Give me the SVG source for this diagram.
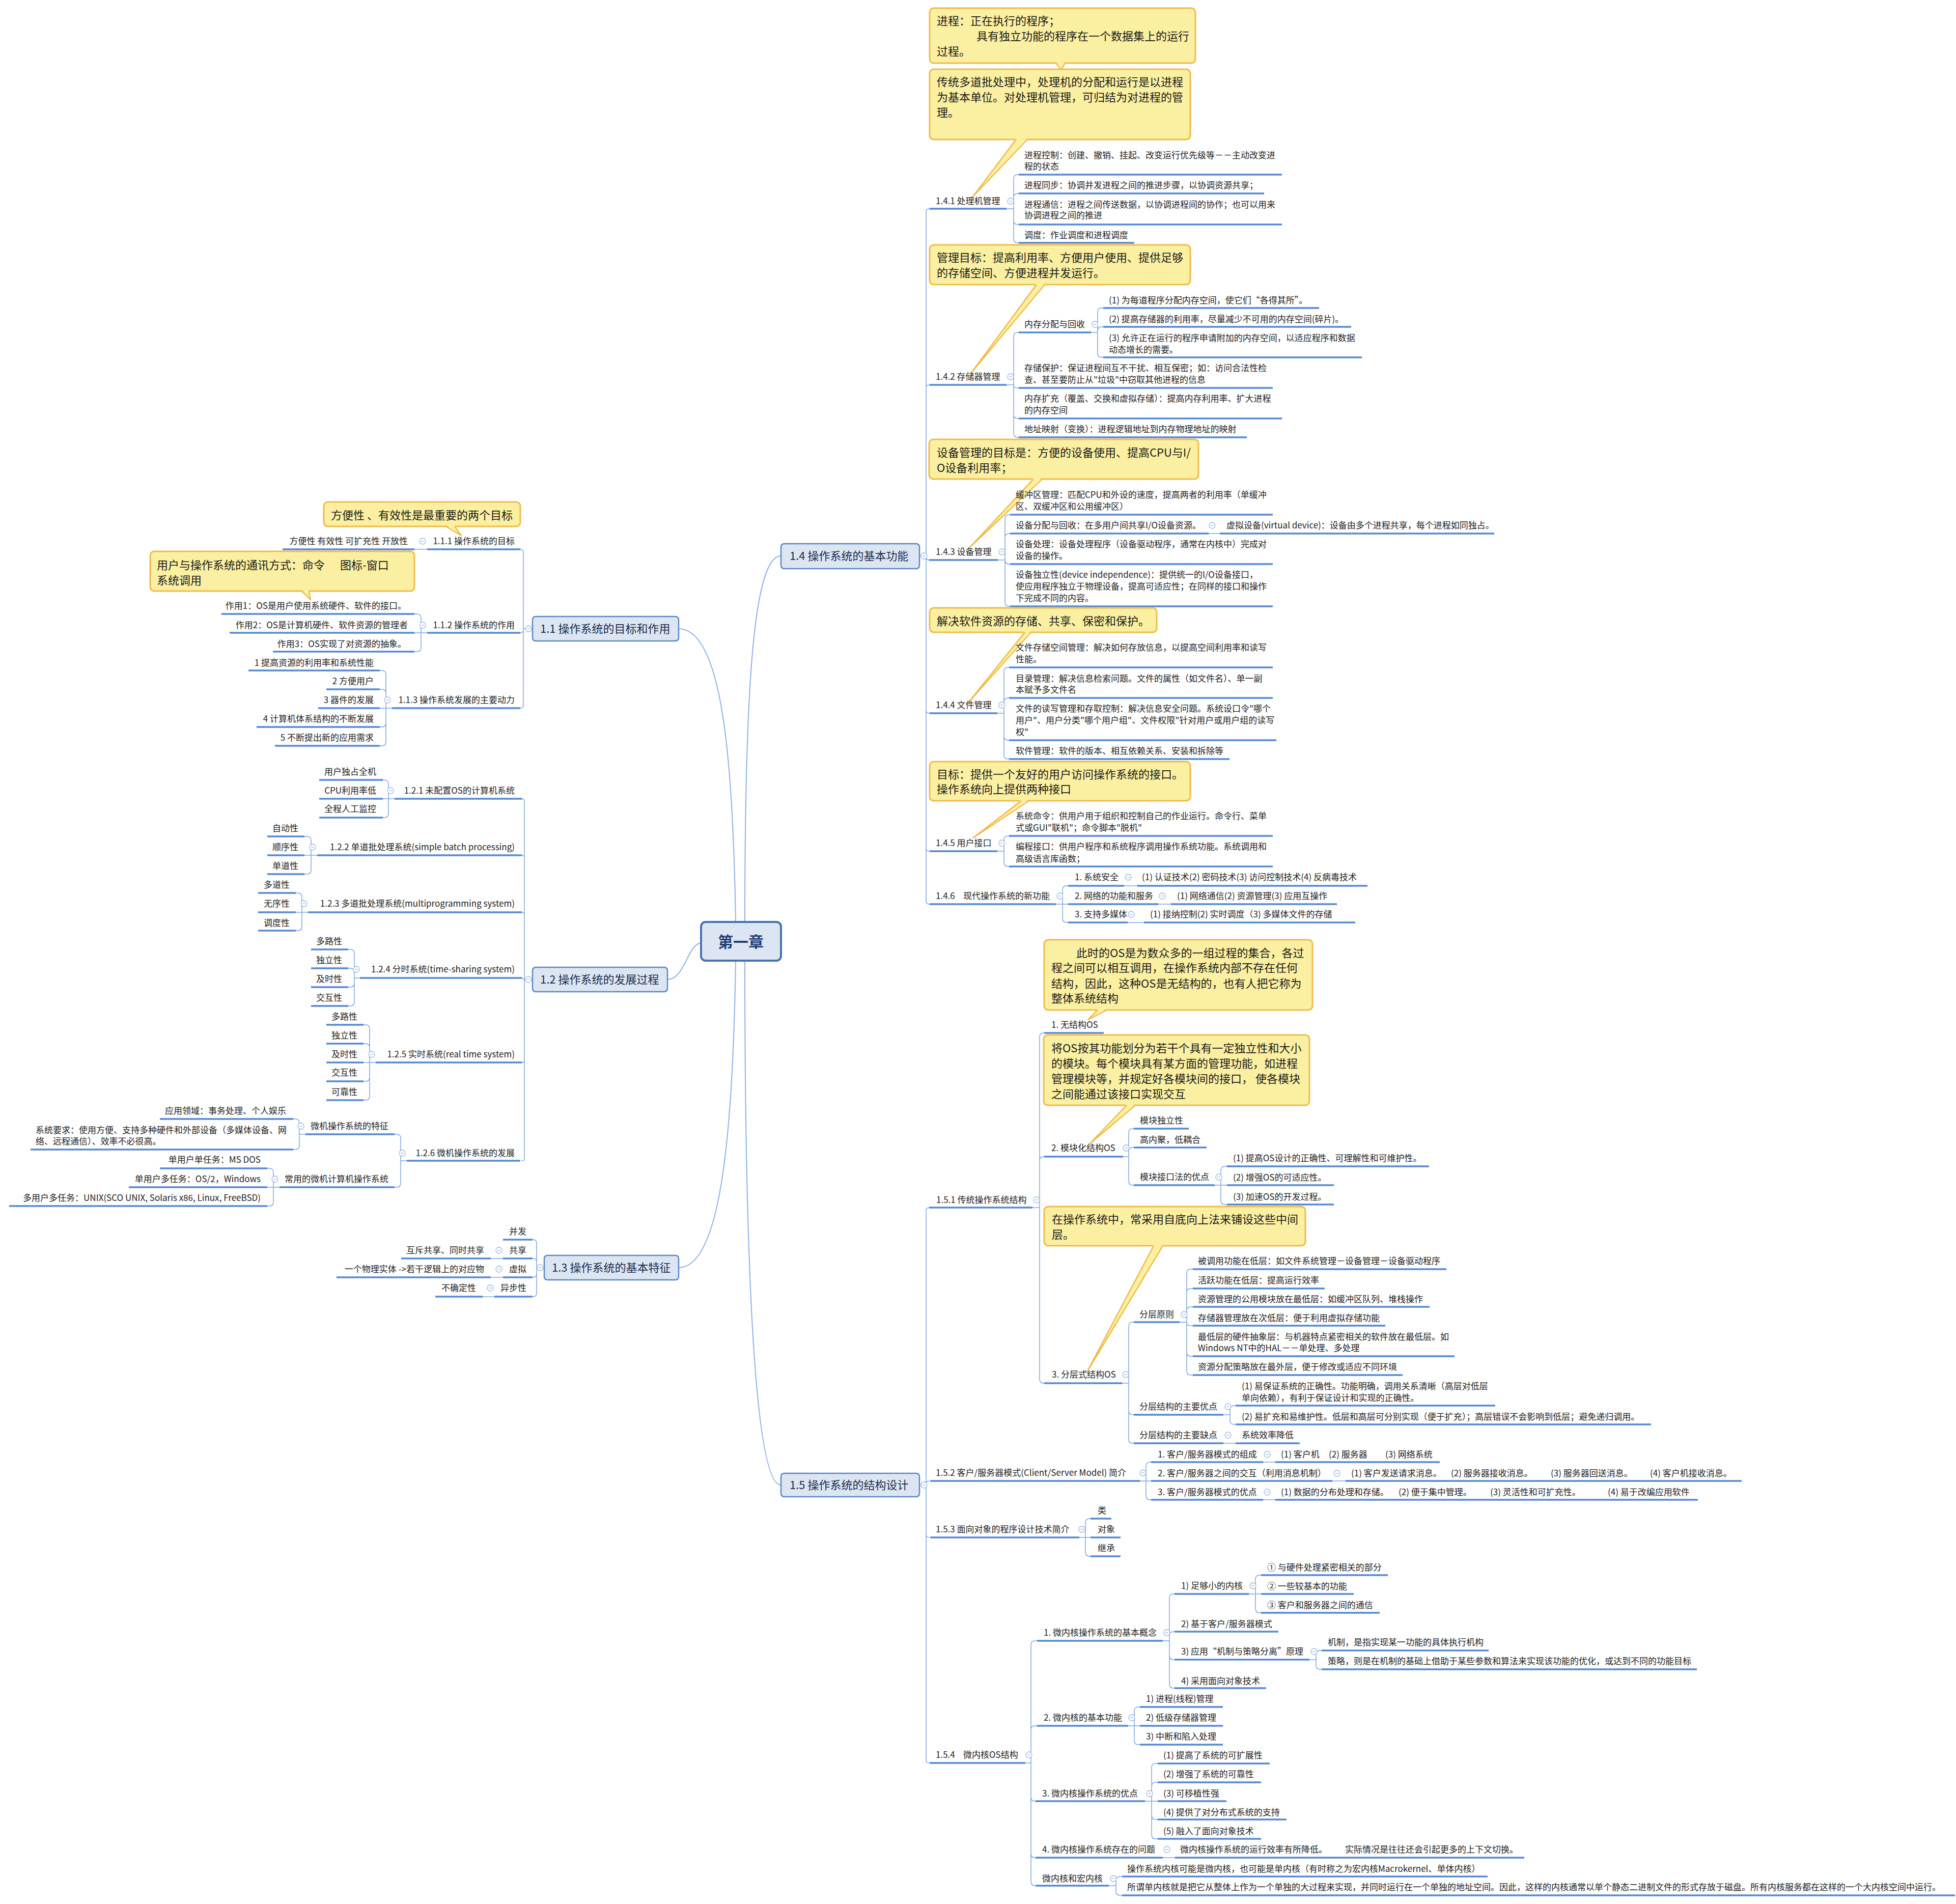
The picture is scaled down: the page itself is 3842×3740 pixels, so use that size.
<svg xmlns="http://www.w3.org/2000/svg" width="3842" height="3740" viewBox="0 0 3842 3740" xml:space="preserve">
<defs>
<style>
text{font-family:"Noto Sans CJK SC","Noto Sans",sans-serif;fill:#222}
.t{font-size:17px}
.e{text-anchor:end}
.c{font-size:22px;fill:#1a1a1a}
.m{font-size:22px;fill:#1b2d4d}
.ul{stroke:#5589d3;stroke-width:3.5;fill:none}
.cn{stroke:#7ea7e0;stroke-width:1.5;fill:none}
.mc{stroke:#8db1e6;stroke-width:2;fill:none}
.co{fill:#fbf0a1;stroke:#f0bb4a;stroke-width:3}
.pf{fill:#fbf0a1}
.ps{fill:none;stroke:#f0bb4a;stroke-width:2.5;stroke-linejoin:round}
.mb{fill:#dce6f3;stroke:#5b87c6;stroke-width:2.5}
</style>
<g id="cc"><circle r="6" fill="#fff" stroke="#9ab7e3" stroke-width="1.3"/><line x1="-3" y1="0" x2="3" y2="0" stroke="#9ab7e3" stroke-width="1.3"/></g>
</defs>
<rect width="3842" height="3740" fill="#fff"/>

<g id="connectors">
<path class="mc" d="M1463 1811C1463 1350 1480 1092 1534 1092M1463 1887C1463 2450 1480 2917 1534 2917M1333 1235C1420 1235 1440 1500 1445 1811M1311 1924C1345 1924 1350 1855 1377 1852M1333 2490C1420 2490 1440 2200 1445 1887"/>
<path class="cn" d="M1806 1092H1819V416Q1819 410 1825 410H1826M1806 1092H1819V762Q1819 756 1825 756H1826M1806 1092H1819V1094Q1819 1100 1825 1100H1826M1806 1092H1819V1395Q1819 1401 1825 1401H1826M1806 1092H1819V1666Q1819 1672 1825 1672H1826M1806 1092H1819V1770Q1819 1776 1825 1776H1826"/>
<path class="cn" d="M1977 410H1991V351Q1991 343 1999 343H2001M1977 410H1991V388Q1991 380 1999 380H2001M1977 410H1991V433Q1991 441 1999 441H2001M1977 410H1991V469Q1991 477 1999 477H2001"/>
<path class="cn" d="M1977 756H1991V661Q1991 653 1999 653H2001M1977 756H1991V756Q1991 762 1997 762H2001M1977 756H1991V814Q1991 822 1999 822H2001M1977 756H1991V851Q1991 859 1999 859H2001"/>
<path class="cn" d="M2143 653H2156V613Q2156 605 2164 605H2167M2143 653H2156V650Q2156 642 2164 642H2167M2143 653H2156V694Q2156 702 2164 702H2167"/>
<path class="cn" d="M1960 1100H1974V1019Q1974 1011 1982 1011H1984M1960 1100H1974V1056Q1974 1048 1982 1048H1984M1960 1100H1974V1100Q1974 1108 1982 1108H1984M1960 1100H1974V1183Q1974 1191 1982 1191H1984M2374 1048H2396"/>
<path class="cn" d="M1959 1401H1972V1319Q1972 1311 1980 1311H1982M1959 1401H1972V1379Q1972 1371 1980 1371H1982M1959 1401H1972V1446Q1972 1454 1980 1454H1982M1959 1401H1972V1483Q1972 1491 1980 1491H1982"/>
<path class="cn" d="M1959 1672H1972V1650Q1972 1642 1980 1642H1982M1959 1672H1972V1694Q1972 1702 1980 1702H1982"/>
<path class="cn" d="M2074 1776H2087V1748Q2087 1740 2095 1740H2098M2074 1776H2098M2074 1776H2087V1804Q2087 1812 2095 1812H2098M2208 1740H2234M2275 1776H2300M2215 1812H2247"/>
<path class="cn" d="M1046 1235H1028V1085Q1028 1079 1022 1079M1046 1235H1028V1237Q1028 1243 1022 1243M1046 1235H1028V1385Q1028 1391 1022 1391M839 1079H814"/>
<path class="cn" d="M839 1243H827V1214Q827 1206 819 1206H814M839 1243H814M839 1243H827V1272Q827 1280 819 1280H814"/>
<path class="cn" d="M770 1391H758V1325Q758 1317 750 1317H746M770 1391H758V1362Q758 1354 750 1354H746M770 1391H746M770 1391H758V1420Q758 1428 750 1428H746M770 1391H758V1457Q758 1465 750 1465H746"/>
<path class="cn" d="M1046 1924H1030V1574Q1030 1569 1025 1569M1046 1924H1030V1685Q1030 1680 1025 1680M1046 1924H1030V1797Q1030 1792 1025 1792M1046 1924H1030L1025 1921M1046 1924H1030V2082Q1030 2087 1025 2087M1046 1924H1030V2275Q1030 2280 1025 2280"/>
<path class="cn" d="M775 1569H763V1540Q763 1532 755 1532H752M775 1569H752M775 1569H763V1598Q763 1606 755 1606H752"/>
<path class="cn" d="M623 1680H611V1651Q611 1643 603 1643H598M623 1680H598M623 1680H611V1709Q611 1717 603 1717H598"/>
<path class="cn" d="M605 1792H593V1762Q593 1754 585 1754H581M605 1792H581M605 1792H593V1820Q593 1828 585 1828H581"/>
<path class="cn" d="M707 1921H696V1873Q696 1865 688 1865H684M707 1921H696V1910Q696 1902 688 1902H684M707 1921H696V1931Q696 1939 688 1939H684M707 1921H696V1968Q696 1976 688 1976H684"/>
<path class="cn" d="M738 2087H726V2021Q726 2013 718 2013H714M738 2087H726V2058Q726 2050 718 2050H714M738 2087H714M738 2087H726V2116Q726 2124 718 2124H714M738 2087H726V2153Q726 2161 718 2161H714"/>
<path class="cn" d="M799 2280H787V2236Q787 2228 779 2228H775M799 2280H787V2324Q787 2332 779 2332H775M600 2228H588V2206Q588 2198 580 2198H576M600 2228H588V2250Q588 2258 580 2258H576M549 2332H537V2303Q537 2295 529 2295H525M549 2332H525M549 2332H537V2361Q537 2369 529 2369H525"/>
<path class="cn" d="M1069 2490H1054V2442Q1054 2435 1047 2435H1046M1069 2490H1054V2479Q1054 2472 1047 2472H1046M1069 2490H1054V2502Q1054 2509 1047 2509H1046M1069 2490H1054V2540Q1054 2547 1047 2547H1046M988 2472H964M988 2509H964M971 2547H948"/>
<path class="cn" d="M1806 2917H1819V2378Q1819 2372 1825 2372M1806 2917H1819V2915Q1819 2909 1825 2909M1806 2917H1819V3014Q1819 3020 1825 3020M1806 2917H1819V3457Q1819 3463 1825 3463"/>
<path class="cn" d="M2028 2372H2042V2037Q2042 2029 2050 2029H2051M2028 2372H2042V2280Q2042 2272 2050 2272H2051M2028 2372H2042V2709Q2042 2717 2050 2717H2051"/>
<path class="cn" d="M2206 2272H2217V2225Q2217 2217 2225 2217H2227M2206 2272H2217V2262Q2217 2254 2225 2254H2227M2206 2272H2217V2320Q2217 2328 2225 2328H2227M2386 2328H2398V2299Q2398 2291 2406 2291H2410M2386 2328H2410M2386 2328H2398V2358Q2398 2366 2406 2366H2410"/>
<path class="cn" d="M2204 2717H2217V2605Q2217 2597 2225 2597H2227M2204 2717H2217V2771Q2217 2779 2225 2779H2227M2204 2717H2217V2827Q2217 2835 2225 2835H2227"/>
<path class="cn" d="M2317 2597H2331V2501Q2331 2493 2339 2493H2343M2317 2597H2331V2539Q2331 2531 2339 2531H2343M2317 2597H2331V2575Q2331 2567 2339 2567H2343M2317 2597H2331Q2331 2604 2338 2604H2343M2317 2597H2331V2656Q2331 2664 2339 2664H2343M2317 2597H2331V2693Q2331 2701 2339 2701H2343"/>
<path class="cn" d="M2403 2779H2416V2769Q2416 2761 2424 2761H2427M2403 2779H2416V2790Q2416 2798 2424 2798H2427M2403 2835H2427"/>
<path class="cn" d="M2239 2909H2251V2880Q2251 2872 2259 2872H2261M2239 2909H2261M2239 2909H2251V2938Q2251 2946 2259 2946H2261M2481 2872H2505M2617 2909H2643M2481 2946H2505"/>
<path class="cn" d="M2120 3020H2132V2991Q2132 2983 2140 2983H2142M2120 3020H2142M2120 3020H2132V3049Q2132 3057 2140 3057H2142"/>
<path class="cn" d="M2014 3463H2025V3231Q2025 3223 2033 3223H2037M2014 3463H2025V3398Q2025 3390 2033 3390H2037M2014 3463H2025V3530Q2025 3538 2033 3538H2034M2014 3463H2025V3641Q2025 3649 2033 3649H2034M2014 3463H2025V3696Q2025 3704 2033 3704H2034"/>
<path class="cn" d="M2284 3223H2297V3139Q2297 3131 2305 3131H2307M2284 3223H2297V3213Q2297 3205 2305 3205H2307M2284 3223H2297V3252Q2297 3260 2305 3260H2307M2284 3223H2297V3308Q2297 3316 2305 3316H2307"/>
<path class="cn" d="M2453 3131H2466V3102Q2466 3094 2474 3094H2477M2453 3131H2477M2453 3131H2466V3160Q2466 3168 2474 3168H2477M2572 3260H2585V3250Q2585 3242 2593 3242H2596M2572 3260H2585V3271Q2585 3279 2593 3279H2596"/>
<path class="cn" d="M2216 3390H2228V3361Q2228 3353 2236 3353H2239M2216 3390H2239M2216 3390H2228V3419Q2228 3427 2236 3427H2239"/>
<path class="cn" d="M2249 3538H2262V3472Q2262 3464 2270 3464H2274M2249 3538H2262V3509Q2262 3501 2270 3501H2274M2249 3538H2274M2249 3538H2262V3566Q2262 3574 2270 3574H2274M2249 3538H2262V3604Q2262 3612 2270 3612H2274M2284 3649H2308"/>
<path class="cn" d="M2178 3704H2192V3694Q2192 3686 2200 3686H2204M2178 3704H2192V3715Q2192 3723 2200 3723H2204"/>
</g>

<g id="n0">
<rect x="1377" y="1811" width="157" height="76" rx="9" fill="#dce6f3" stroke="#4572b0" stroke-width="4"/>
<text x="1455" y="1861" text-anchor="middle" style="font-size:30px;font-weight:bold;fill:#1f3f73">第一章</text>
</g>

<!-- 1.4 -->
<g id="n14">
<rect class="mb" x="1534" y="1068" width="272" height="49" rx="6"/>
<text class="m" x="1551" y="1100">1.4 操作系统的基本功能</text>
<use href="#cc" x="1815" y="1092"/>
</g>
<g id="calloutA">
<rect class="co" x="1826" y="16" width="522" height="108" rx="8"/>
<polygon class="pf" points="2074,121 2092,121 2084,137"/>
<polyline class="ps" points="2074,124 2084,137 2092,124"/>
<text class="c"><tspan x="1840" y="49">进程：正在执行的程序；</tspan><tspan x="1918" y="79">具有独立功能的程序在一个数据集上的运行</tspan><tspan x="1840" y="109">过程。</tspan></text>
</g>
<g id="n141">
<rect class="co" x="1826" y="136" width="512" height="138" rx="8"/>
<polygon class="pf" points="1996,271 2018,271 1911,386"/>
<polyline class="ps" points="1996,274 1911,386 2018,274"/>
<text class="c"><tspan x="1840" y="169">传统多道批处理中，处理机的分配和运行是以进程</tspan><tspan x="1840" y="199">为基本单位。对处理机管理，可归结为对进程的管</tspan><tspan x="1840" y="229">理。</tspan></text>
<text class="t" x="1838" y="401">1.4.1 处理机管理</text>
<path class="ul" d="M1826 410H1977"/>
<use href="#cc" x="1985" y="395"/>
<text class="t"><tspan x="2012" y="311">进程控制：创建、撤销、挂起、改变运行优先级等－－主动改变进</tspan><tspan x="2012" y="333">程的状态</tspan></text>
<path class="ul" d="M2001 343H2518"/>
<text class="t" x="2012" y="370">进程同步：协调并发进程之间的推进步骤，以协调资源共享；</text>
<path class="ul" d="M2001 380H2483"/>
<text class="t"><tspan x="2012" y="408">进程通信：进程之间传送数据，以协调进程间的协作；也可以用来</tspan><tspan x="2012" y="429">协调进程之间的推进</tspan></text>
<path class="ul" d="M2001 441H2518"/>
<text class="t" x="2012" y="468">调度：作业调度和进程调度</text>
<path class="ul" d="M2001 477H2228"/>
</g>
<g id="n142">
<rect class="co" x="1826" y="481" width="512" height="78" rx="8"/>
<polygon class="pf" points="2036,556 2052,556 1908,732"/>
<polyline class="ps" points="2036,559 1908,732 2052,559"/>
<text class="c"><tspan x="1840" y="514">管理目标：提高利用率、方便用户使用、提供足够</tspan><tspan x="1840" y="544">的存储空间、方便进程并发运行。</tspan></text>
<text class="t" x="1838" y="746">1.4.2 存储器管理</text>
<path class="ul" d="M1826 756H1977"/>
<use href="#cc" x="1985" y="740"/>
<text class="t" x="2012" y="643">内存分配与回收</text>
<path class="ul" d="M2001 653H2143"/>
<use href="#cc" x="2151" y="637"/>
<text class="t" x="2178" y="596">(1) 为每道程序分配内存空间，使它们“各得其所”。</text>
<path class="ul" d="M2167 605H2591"/>
<text class="t" x="2178" y="633">(2) 提高存储器的利用率，尽量减少不可用的内存空间(碎片)。</text>
<path class="ul" d="M2167 642H2654"/>
<text class="t"><tspan x="2178" y="670">(3) 允许正在运行的程序申请附加的内存空间，以适应程序和数据</tspan><tspan x="2178" y="693">动态增长的需要。</tspan></text>
<path class="ul" d="M2167 702H2675"/>
<text class="t"><tspan x="2012" y="729">存储保护：保证进程间互不干扰、相互保密；如：访问合法性检</tspan><tspan x="2012" y="752">查、甚至要防止从"垃圾"中窃取其他进程的信息</tspan></text>
<path class="ul" d="M2001 762H2500"/>
<text class="t"><tspan x="2012" y="789">内存扩充（覆盖、交换和虚拟存储）：提高内存利用率、扩大进程</tspan><tspan x="2012" y="812">的内存空间</tspan></text>
<path class="ul" d="M2001 822H2518"/>
<text class="t" x="2012" y="849">地址映射（变换）：进程逻辑地址到内存物理地址的映射</text>
<path class="ul" d="M2001 859H2449"/>
</g>
<g id="n143">
<rect class="co" x="1825" y="863" width="529" height="78" rx="8"/>
<polygon class="pf" points="2030,938 2047,938 1905,1075"/>
<polyline class="ps" points="2030,941 1905,1075 2047,941"/>
<text class="c"><tspan x="1840" y="897">设备管理的目标是：方便的设备使用、提高CPU与I/</tspan><tspan x="1840" y="927">O设备利用率；</tspan></text>
<text class="t" x="1838" y="1090">1.4.3 设备管理</text>
<path class="ul" d="M1825 1100H1960"/>
<use href="#cc" x="1968" y="1084"/>
<text class="t"><tspan x="1995" y="978">缓冲区管理：匹配CPU和外设的速度，提高两者的利用率（单缓冲</tspan><tspan x="1995" y="1001">区、双缓冲区和公用缓冲区）</tspan></text>
<path class="ul" d="M1984 1011H2500"/>
<text class="t" x="1995" y="1038">设备分配与回收：在多用户间共享I/O设备资源。</text>
<path class="ul" d="M1984 1048H2374"/>
<use href="#cc" x="2381" y="1032"/>
<text class="t" x="2409" y="1038">虚拟设备(virtual device)：设备由多个进程共享，每个进程如同独占。</text>
<path class="ul" d="M2396 1048H2935"/>
<text class="t"><tspan x="1995" y="1075">设备处理：设备处理程序（设备驱动程序，通常在内核中）完成对</tspan><tspan x="1995" y="1098">设备的操作。</tspan></text>
<path class="ul" d="M1984 1108H2500"/>
<text class="t"><tspan x="1995" y="1135">设备独立性(device independence)：提供统一的I/O设备接口，</tspan><tspan x="1995" y="1158">使应用程序独立于物理设备，提高可适应性；在同样的接口和操作</tspan><tspan x="1995" y="1181">下完成不同的内容。</tspan></text>
<path class="ul" d="M1984 1191H2500"/>
</g>
<g id="n144">
<rect class="co" x="1826" y="1194" width="446" height="48" rx="8"/>
<polygon class="pf" points="2013,1239 2025,1239 1902,1380"/>
<polyline class="ps" points="2013,1242 1902,1380 2025,1242"/>
<text class="c" x="1840" y="1228">解决软件资源的存储、共享、保密和保护。</text>
<text class="t" x="1838" y="1391">1.4.4 文件管理</text>
<path class="ul" d="M1826 1401H1959"/>
<use href="#cc" x="1968" y="1385"/>
<text class="t"><tspan x="1995" y="1278">文件存储空间管理：解决如何存放信息，以提高空间利用率和读写</tspan><tspan x="1995" y="1301">性能。</tspan></text>
<path class="ul" d="M1982 1311H2500"/>
<text class="t"><tspan x="1995" y="1339">目录管理：解决信息检索问题。文件的属性（如文件名）、单一副</tspan><tspan x="1995" y="1361">本赋予多文件名</tspan></text>
<path class="ul" d="M1982 1371H2500"/>
<text class="t"><tspan x="1995" y="1398">文件的读写管理和存取控制：解决信息安全问题。系统设口令"哪个</tspan><tspan x="1995" y="1421">用户"、用户分类"哪个用户组"、文件权限"针对用户或用户组的读写</tspan><tspan x="1995" y="1444">权"</tspan></text>
<path class="ul" d="M1982 1454H2507"/>
<text class="t" x="1995" y="1481">软件管理：软件的版本、相互依赖关系、安装和拆除等</text>
<path class="ul" d="M1982 1491H2415"/>
</g>
<g id="n145">
<rect class="co" x="1826" y="1496" width="512" height="77" rx="8"/>
<polygon class="pf" points="2006,1570 2021,1570 1911,1646"/>
<polyline class="ps" points="2006,1573 1911,1646 2021,1573"/>
<text class="c"><tspan x="1840" y="1529">目标：提供一个友好的用户访问操作系统的接口。</tspan><tspan x="1840" y="1558">操作系统向上提供两种接口</tspan></text>
<text class="t" x="1838" y="1662">1.4.5 用户接口</text>
<path class="ul" d="M1826 1672H1959"/>
<use href="#cc" x="1968" y="1656"/>
<text class="t"><tspan x="1995" y="1609">系统命令：供用户用于组织和控制自己的作业运行。命令行、菜单</tspan><tspan x="1995" y="1632">式或GUI"联机"；命令脚本"脱机"</tspan></text>
<path class="ul" d="M1982 1642H2500"/>
<text class="t"><tspan x="1995" y="1669">编程接口：供用户程序和系统程序调用操作系统功能。系统调用和</tspan><tspan x="1995" y="1693">高级语言库函数；</tspan></text>
<path class="ul" d="M1982 1702H2500"/>
</g>
<g id="n146">
<text class="t" y="1766"><tspan x="1838">1.4.6</tspan><tspan x="1892">现代操作系统的新功能</tspan></text>
<path class="ul" d="M1826 1776H2074"/>
<use href="#cc" x="2082" y="1760"/>
<text class="t" x="2111" y="1729">1. 系统安全</text>
<path class="ul" d="M2098 1740H2208"/>
<use href="#cc" x="2216" y="1723"/>
<text class="t" x="2243" y="1729">(1) 认证技术(2) 密码技术(3) 访问控制技术(4) 反病毒技术</text>
<path class="ul" d="M2234 1740H2686"/>
<text class="t" x="2111" y="1766">2. 网络的功能和服务</text>
<path class="ul" d="M2098 1776H2275"/>
<use href="#cc" x="2283" y="1760"/>
<text class="t" x="2312" y="1766">(1) 网络通信(2) 资源管理(3) 应用互操作</text>
<path class="ul" d="M2300 1776H2626"/>
<text class="t" x="2111" y="1802">3. 支持多媒体</text>
<path class="ul" d="M2098 1812H2215"/>
<use href="#cc" x="2222" y="1796"/>
<text class="t" x="2259" y="1802">(1) 接纳控制(2) 实时调度（3) 多媒体文件的存储</text>
<path class="ul" d="M2247 1812H2662"/>
</g>

<!-- 1.1 -->
<g id="n11">
<rect class="mb" x="1046" y="1211" width="287" height="48" rx="6"/>
<text class="m" x="1061" y="1243">1.1 操作系统的目标和作用</text>
<use href="#cc" x="1038" y="1235"/>
</g>
<g id="n111">
<rect class="co" x="636" y="986" width="386" height="48" rx="8"/>
<polygon class="pf" points="876,1031 893,1031 906,1052"/>
<polyline class="ps" points="876,1034 906,1052 893,1034"/>
<text class="c" x="650" y="1020">方便性 、有效性是最重要的两个目标</text>
<text class="t e" x="1011" y="1069">1.1.1 操作系统的目标</text>
<path class="ul" d="M839 1079H1022"/>
<use href="#cc" x="830" y="1063"/>
<text class="t e" x="801" y="1069">方便性 有效性 可扩充性 开放性</text>
<path class="ul" d="M555 1079H814"/>
</g>
<g id="n112">
<rect class="co" x="295" y="1083" width="519" height="78" rx="8"/>
<polygon class="pf" points="593,1158 607,1158 610,1178"/>
<polyline class="ps" points="593,1161 610,1178 607,1161"/>
<text class="c"><tspan x="308" y="1118">用户与操作系统的通讯方式：命令</tspan><tspan x="668" y="1118">图标-窗口</tspan><tspan x="308" y="1148">系统调用</tspan></text>
<text class="t e" x="1011" y="1234">1.1.2 操作系统的作用</text>
<path class="ul" d="M839 1243H1022"/>
<use href="#cc" x="830" y="1228"/>
<text class="t e" x="798" y="1196">作用1：OS是用户使用系统硬件、软件的接口。</text>
<path class="ul" d="M435 1206H814"/>
<text class="t e" x="801" y="1234">作用2：OS是计算机硬件、软件资源的管理者</text>
<path class="ul" d="M451 1243H814"/>
<text class="t e" x="798" y="1271">作用3：OS实现了对资源的抽象。</text>
<path class="ul" d="M536 1280H814"/>
</g>
<g id="n113">
<text class="t e" x="1011" y="1381">1.1.3 操作系统发展的主要动力</text>
<path class="ul" d="M770 1391H1022"/>
<use href="#cc" x="761" y="1375"/>
<text class="t e" x="734" y="1308">1 提高资源的利用率和系统性能</text>
<path class="ul" d="M488 1317H746"/>
<text class="t e" x="734" y="1344">2 方便用户</text>
<path class="ul" d="M641 1354H746"/>
<text class="t e" x="734" y="1381">3 器件的发展</text>
<path class="ul" d="M625 1391H746"/>
<text class="t e" x="734" y="1418">4 计算机体系结构的不断发展</text>
<path class="ul" d="M504 1428H746"/>
<text class="t e" x="734" y="1455">5 不断提出新的应用需求</text>
<path class="ul" d="M540 1465H746"/>
</g>

<!-- 1.2 -->
<g id="n12">
<rect class="mb" x="1046" y="1900" width="265" height="48" rx="6"/>
<text class="m" x="1061" y="1932">1.2 操作系统的发展过程</text>
<use href="#cc" x="1038" y="1924"/>
</g>
<g id="n121">
<text class="t e" x="1011" y="1559">1.2.1  未配置OS的计算机系统</text>
<path class="ul" d="M775 1569H1025"/>
<use href="#cc" x="767" y="1553"/>
<text class="t e" x="739" y="1522">用户独占全机</text>
<path class="ul" d="M627 1532H752"/>
<text class="t e" x="739" y="1559">CPU利用率低</text>
<path class="ul" d="M627 1569H752"/>
<text class="t e" x="739" y="1595">全程人工监控</text>
<path class="ul" d="M627 1606H752"/>
</g>
<g id="n122">
<text class="t e" x="1011" y="1670">1.2.2  单道批处理系统(simple batch processing)</text>
<path class="ul" d="M623 1680H1025"/>
<use href="#cc" x="614" y="1664"/>
<text class="t e" x="586" y="1633">自动性</text>
<path class="ul" d="M525 1643H598"/>
<text class="t e" x="586" y="1670">顺序性</text>
<path class="ul" d="M525 1680H598"/>
<text class="t e" x="586" y="1707">单道性</text>
<path class="ul" d="M525 1717H598"/>
</g>
<g id="n123">
<text class="t e" x="1011" y="1781">1.2.3  多道批处理系统(multiprogramming system)</text>
<path class="ul" d="M605 1792H1025"/>
<use href="#cc" x="597" y="1775"/>
<text class="t e" x="569" y="1744">多道性</text>
<path class="ul" d="M507 1754H581"/>
<text class="t e" x="569" y="1781">无序性</text>
<path class="ul" d="M507 1792H581"/>
<text class="t e" x="569" y="1819">调度性</text>
<path class="ul" d="M507 1828H581"/>
</g>
<g id="n124">
<text class="t e" x="1011" y="1910">1.2.4  分时系统(time-sharing system)</text>
<path class="ul" d="M707 1921H1025"/>
<use href="#cc" x="700" y="1904"/>
<text class="t e" x="672" y="1855">多路性</text>
<path class="ul" d="M611 1865H684"/>
<text class="t e" x="672" y="1892">独立性</text>
<path class="ul" d="M611 1902H684"/>
<text class="t e" x="672" y="1929">及时性</text>
<path class="ul" d="M611 1939H684"/>
<text class="t e" x="672" y="1966">交互性</text>
<path class="ul" d="M611 1976H684"/>
</g>
<g id="n125">
<text class="t e" x="1011" y="2077">1.2.5  实时系统(real time system)</text>
<path class="ul" d="M738 2087H1025"/>
<use href="#cc" x="730" y="2071"/>
<text class="t e" x="702" y="2003">多路性</text>
<path class="ul" d="M641 2013H714"/>
<text class="t e" x="702" y="2040">独立性</text>
<path class="ul" d="M641 2050H714"/>
<text class="t e" x="702" y="2077">及时性</text>
<path class="ul" d="M641 2087H714"/>
<text class="t e" x="702" y="2113">交互性</text>
<path class="ul" d="M641 2124H714"/>
<text class="t e" x="702" y="2151">可靠性</text>
<path class="ul" d="M641 2161H714"/>
</g>
<g id="n126">
<text class="t e" x="1011" y="2271">1.2.6  微机操作系统的发展</text>
<path class="ul" d="M799 2280H1022"/>
<use href="#cc" x="790" y="2265"/>
<text class="t e" x="763" y="2218">微机操作系统的特征</text>
<path class="ul" d="M600 2228H775"/>
<use href="#cc" x="591" y="2212"/>
<text class="t e" x="562" y="2188">应用领域：事务处理、个人娱乐</text>
<path class="ul" d="M314 2198H576"/>
<text class="t"><tspan x="70" y="2226">系统要求：使用方便、支持多种硬件和外部设备（多媒体设备、网</tspan><tspan x="70" y="2248">络、远程通信）、效率不必很高。</tspan></text>
<path class="ul" d="M60 2258H576"/>
<text class="t e" x="763" y="2322">常用的微机计算机操作系统</text>
<path class="ul" d="M549 2332H775"/>
<use href="#cc" x="540" y="2316"/>
<text class="t e" x="512" y="2284">单用户单任务：MS DOS</text>
<path class="ul" d="M314 2295H525"/>
<text class="t e" x="512" y="2322">单用户多任务：OS/2，Windows</text>
<path class="ul" d="M253 2332H525"/>
<text class="t e" x="512" y="2359">多用户多任务：UNIX(SCO UNIX, Solaris x86, Linux, FreeBSD)</text>
<path class="ul" d="M18 2369H525"/>
</g>

<!-- 1.3 -->
<g id="n13">
<rect class="mb" x="1069" y="2466" width="264" height="48" rx="6"/>
<text class="m" x="1084" y="2498">1.3 操作系统的基本特征</text>
<use href="#cc" x="1061" y="2490"/>
<text class="t e" x="1034" y="2425">并发</text>
<path class="ul" d="M988 2435H1046"/>
<text class="t e" x="1034" y="2462">共享</text>
<path class="ul" d="M988 2472H1046"/>
<use href="#cc" x="980" y="2456"/>
<text class="t e" x="951" y="2462">互斥共享、同时共享</text>
<path class="ul" d="M788 2472H964"/>
<text class="t e" x="1034" y="2499">虚拟</text>
<path class="ul" d="M988 2509H1046"/>
<use href="#cc" x="980" y="2493"/>
<text class="t e" x="951" y="2499">一个物理实体 -&gt;若干逻辑上的对应物</text>
<path class="ul" d="M661 2509H964"/>
<text class="t e" x="1034" y="2536">异步性</text>
<path class="ul" d="M971 2547H1046"/>
<use href="#cc" x="963" y="2530"/>
<text class="t e" x="935" y="2536">不确定性</text>
<path class="ul" d="M855 2547H948"/>
</g>

<!-- 1.5 -->
<g id="n15">
<rect class="mb" x="1534" y="2894" width="272" height="46" rx="6"/>
<text class="m" x="1551" y="2925">1.5 操作系统的结构设计</text>
<use href="#cc" x="1815" y="2917"/>
</g>
<g id="n151">
<text class="t" x="1839" y="2363">1.5.1 传统操作系统结构</text>
<path class="ul" d="M1825 2372H2028"/>
<use href="#cc" x="2036" y="2357"/>
<rect class="co" x="2051" y="1846" width="527" height="138" rx="8"/>
<polygon class="pf" points="2156,1981 2174,1981 2137,2003"/>
<polyline class="ps" points="2156,1984 2137,2003 2174,1984"/>
<text class="c"><tspan x="2114" y="1880">此时的OS是为数众多的一组过程的集合，各过</tspan><tspan x="2065" y="1909">程之间可以相互调用，在操作系统内部不存在任何</tspan><tspan x="2065" y="1940">结构，因此，这种OS是无结构的，也有人把它称为</tspan><tspan x="2065" y="1969">整体系统结构</tspan></text>
<text class="t" x="2065" y="2019">1. 无结构OS</text>
<path class="ul" d="M2051 2029H2168"/>
<rect class="co" x="2050" y="2033" width="522" height="138" rx="8"/>
<polygon class="pf" points="2213,2168 2230,2168 2140,2247"/>
<polyline class="ps" points="2213,2171 2140,2247 2230,2171"/>
<text class="c"><tspan x="2065" y="2067">将OS按其功能划分为若干个具有一定独立性和大小</tspan><tspan x="2065" y="2097">的模块。每个模块具有某方面的管理功能，如进程</tspan><tspan x="2065" y="2127">管理模块等，并规定好各模块间的接口，  使各模块</tspan><tspan x="2065" y="2157">之间能通过该接口实现交互</tspan></text>
<text class="t" x="2065" y="2261">2. 模块化结构OS</text>
<path class="ul" d="M2051 2272H2206"/>
<use href="#cc" x="2212" y="2255"/>
<text class="t" x="2239" y="2207">模块独立性</text>
<path class="ul" d="M2227 2217H2335"/>
<text class="t" x="2239" y="2245">高内聚，低耦合</text>
<path class="ul" d="M2227 2254H2370"/>
<text class="t" x="2239" y="2318">模块接口法的优点</text>
<path class="ul" d="M2227 2328H2386"/>
<use href="#cc" x="2394" y="2312"/>
<text class="t" x="2422" y="2281">(1) 提高OS设计的正确性、可理解性和可维护性。</text>
<path class="ul" d="M2410 2291H2807"/>
<text class="t" x="2422" y="2319">(2) 增强OS的可适应性。</text>
<path class="ul" d="M2410 2328H2620"/>
<text class="t" x="2422" y="2357">(3) 加速OS的开发过程。</text>
<path class="ul" d="M2410 2366H2620"/>
<rect class="co" x="2051" y="2370" width="513" height="77" rx="8"/>
<polygon class="pf" points="2266,2444 2284,2444 2135,2695"/>
<polyline class="ps" points="2266,2447 2135,2695 2284,2447"/>
<text class="c"><tspan x="2066" y="2403">在操作系统中，常采用自底向上法来铺设这些中间</tspan><tspan x="2066" y="2433">层。</tspan></text>
<text class="t" x="2066" y="2706">3. 分层式结构OS</text>
<path class="ul" d="M2051 2717H2204"/>
<use href="#cc" x="2211" y="2700"/>
<text class="t" x="2238" y="2588">分层原则</text>
<path class="ul" d="M2227 2597H2317"/>
<use href="#cc" x="2326" y="2582"/>
<text class="t" x="2353" y="2483">被调用功能在低层：如文件系统管理－设备管理－设备驱动程序</text>
<path class="ul" d="M2343 2493H2841"/>
<text class="t" x="2353" y="2521">活跃功能在低层：提高运行效率</text>
<path class="ul" d="M2343 2531H2602"/>
<text class="t" x="2353" y="2558">资源管理的公用模块放在最低层：如缓冲区队列、堆栈操作</text>
<path class="ul" d="M2343 2567H2808"/>
<text class="t" x="2353" y="2595">存储器管理放在次低层：便于利用虚拟存储功能</text>
<path class="ul" d="M2343 2604H2721"/>
<text class="t"><tspan x="2353" y="2632">最低层的硬件抽象层：与机器特点紧密相关的软件放在最低层。如</tspan><tspan x="2353" y="2654">Windows NT中的HAL－－单处理、多处理</tspan></text>
<path class="ul" d="M2343 2664H2857"/>
<text class="t" x="2353" y="2691">资源分配策略放在最外层，便于修改或适应不同环境</text>
<path class="ul" d="M2343 2701H2755"/>
<text class="t" x="2238" y="2769">分层结构的主要优点</text>
<path class="ul" d="M2227 2779H2403"/>
<use href="#cc" x="2412" y="2763"/>
<text class="t"><tspan x="2439" y="2729">(1) 易保证系统的正确性。功能明确，调用关系清晰（高层对低层</tspan><tspan x="2439" y="2752">单向依赖），有利于保证设计和实现的正确性。</tspan></text>
<path class="ul" d="M2427 2761H2937"/>
<text class="t" x="2439" y="2789">(2) 易扩充和易维护性。低层和高层可分别实现（便于扩充）；高层错误不会影响到低层；避免递归调用。</text>
<path class="ul" d="M2427 2798H3243"/>
<text class="t" x="2238" y="2825">分层结构的主要缺点</text>
<path class="ul" d="M2227 2835H2403"/>
<use href="#cc" x="2412" y="2819"/>
<text class="t" x="2439" y="2825">系统效率降低</text>
<path class="ul" d="M2427 2835H2553"/>
</g>
<g id="n152">
<text class="t" x="1838" y="2899">1.5.2  客户/服务器模式(Client/Server Model) 简介</text>
<path class="ul" d="M1827 2909H2239"/>
<use href="#cc" x="2245" y="2893"/>
<text class="t" x="2274" y="2863">1. 客户/服务器模式的组成</text>
<path class="ul" d="M2261 2872H2481"/>
<use href="#cc" x="2489" y="2857"/>
<text class="t" y="2863"><tspan x="2516">(1) 客户机</tspan><tspan x="2610">(2) 服务器</tspan><tspan x="2721">(3) 网络系统</tspan></text>
<path class="ul" d="M2505 2872H2828"/>
<text class="t" x="2274" y="2900">2. 客户/服务器之间的交互（利用消息机制）</text>
<path class="ul" d="M2261 2909H2617"/>
<use href="#cc" x="2626" y="2894"/>
<text class="t" y="2900"><tspan x="2654">(1) 客户发送请求消息。</tspan><tspan x="2850">(2) 服务器接收消息。</tspan><tspan x="3046">(3) 服务器回送消息。</tspan><tspan x="3241">(4) 客户机接收消息。</tspan></text>
<path class="ul" d="M2643 2909H3421"/>
<text class="t" x="2274" y="2937">3. 客户/服务器模式的优点</text>
<path class="ul" d="M2261 2946H2481"/>
<use href="#cc" x="2489" y="2931"/>
<text class="t" y="2937"><tspan x="2516">(1) 数据的分布处理和存储。</tspan><tspan x="2747">(2) 便于集中管理。</tspan><tspan x="2927">(3) 灵活性和可扩充性。</tspan><tspan x="3158">(4) 易于改编应用软件</tspan></text>
<path class="ul" d="M2505 2946H3335"/>
</g>
<g id="n153">
<text class="t" x="1838" y="3010">1.5.3  面向对象的程序设计技术简介</text>
<path class="ul" d="M1827 3020H2120"/>
<use href="#cc" x="2125" y="3004"/>
<text class="t" x="2156" y="2973">类</text>
<path class="ul" d="M2142 2983H2183"/>
<text class="t" x="2156" y="3010">对象</text>
<path class="ul" d="M2142 3020H2201"/>
<text class="t" x="2156" y="3047">继承</text>
<path class="ul" d="M2142 3057H2201"/>
</g>
<g id="n154">
<text class="t" y="3453"><tspan x="1838">1.5.4</tspan><tspan x="1892">微内核OS结构</tspan></text>
<path class="ul" d="M1826 3463H2014"/>
<use href="#cc" x="2021" y="3447"/>
<text class="t" x="2050" y="3213">1. 微内核操作系统的基本概念</text>
<path class="ul" d="M2037 3223H2284"/>
<use href="#cc" x="2292" y="3207"/>
<text class="t" x="2320" y="3121">1) 足够小的内核</text>
<path class="ul" d="M2307 3131H2453"/>
<use href="#cc" x="2461" y="3115"/>
<text class="t" x="2489" y="3085">① 与硬件处理紧密相关的部分</text>
<path class="ul" d="M2477 3094H2726"/>
<text class="t" x="2489" y="3122">② 一些较基本的功能</text>
<path class="ul" d="M2477 3131H2659"/>
<text class="t" x="2489" y="3159">③ 客户和服务器之间的通信</text>
<path class="ul" d="M2477 3168H2710"/>
<text class="t" x="2320" y="3196">2) 基于客户/服务器模式</text>
<path class="ul" d="M2307 3205H2511"/>
<text class="t" x="2320" y="3250">3) 应用“机制与策略分离”原理</text>
<path class="ul" d="M2307 3260H2572"/>
<use href="#cc" x="2581" y="3244"/>
<text class="t" x="2608" y="3232">机制，是指实现某一功能的具体执行机构</text>
<path class="ul" d="M2596 3242H2924"/>
<text class="t" x="2608" y="3269">策略，则是在机制的基础上借助于某些参数和算法来实现该功能的优化，或达到不同的功能目标</text>
<path class="ul" d="M2596 3279H3333"/>
<text class="t" x="2320" y="3308">4) 采用面向对象技术</text>
<path class="ul" d="M2307 3316H2487"/>
<text class="t" x="2050" y="3380">2. 微内核的基本功能</text>
<path class="ul" d="M2037 3390H2216"/>
<use href="#cc" x="2223" y="3374"/>
<text class="t" x="2251" y="3343">1) 进程(线程)管理</text>
<path class="ul" d="M2239 3353H2402"/>
<text class="t" x="2251" y="3380">2) 低级存储器管理</text>
<path class="ul" d="M2239 3390H2402"/>
<text class="t" x="2251" y="3417">3) 中断和陷入处理</text>
<path class="ul" d="M2239 3427H2402"/>
<text class="t" x="2047" y="3529">3. 微内核操作系统的优点</text>
<path class="ul" d="M2034 3538H2249"/>
<use href="#cc" x="2258" y="3523"/>
<text class="t" x="2285" y="3454">(1) 提高了系统的可扩展性</text>
<path class="ul" d="M2274 3464H2494"/>
<text class="t" x="2285" y="3491">(2) 增强了系统的可靠性</text>
<path class="ul" d="M2274 3501H2477"/>
<text class="t" x="2285" y="3529">(3) 可移植性强</text>
<path class="ul" d="M2274 3538H2409"/>
<text class="t" x="2285" y="3566">(4) 提供了对分布式系统的支持</text>
<path class="ul" d="M2274 3574H2527"/>
<text class="t" x="2285" y="3603">(5) 融入了面向对象技术</text>
<path class="ul" d="M2274 3612H2477"/>
<text class="t" x="2047" y="3639">4. 微内核操作系统存在的问题</text>
<path class="ul" d="M2034 3649H2284"/>
<use href="#cc" x="2292" y="3633"/>
<text class="t" y="3639"><tspan x="2318">微内核操作系统的运行效率有所降低。</tspan><tspan x="2642">实际情况是往往还会引起更多的上下文切换。</tspan></text>
<path class="ul" d="M2308 3649H2994"/>
<text class="t" x="2047" y="3696">微内核和宏内核</text>
<path class="ul" d="M2034 3704H2178"/>
<use href="#cc" x="2187" y="3690"/>
<text class="t" x="2214" y="3677">操作系统内核可能是微内核，也可能是单内核（有时称之为宏内核Macrokernel、单体内核）</text>
<path class="ul" d="M2204 3686H2922"/>
<text class="t" x="2214" y="3713">所谓单内核就是把它从整体上作为一个单独的大过程来实现，并同时运行在一个单独的地址空间。因此，这样的内核通常以单个静态二进制文件的形式存放于磁盘。所有内核服务都在这样的一个大内核空间中运行。</text>
<path class="ul" d="M2204 3723H3840"/>
</g>
</svg>
